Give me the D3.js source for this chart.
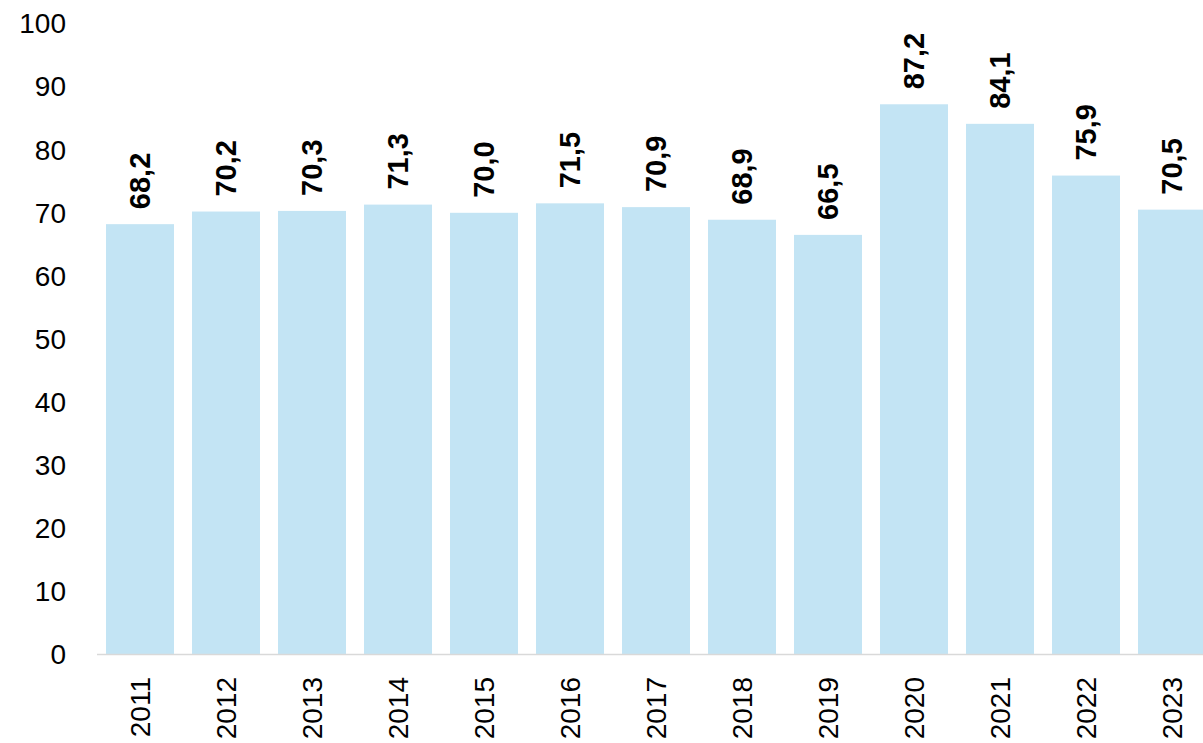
<!DOCTYPE html>
<html>
<head>
<meta charset="utf-8">
<script src="https://cdn.jsdelivr.net/npm/d3@7"></script>
<style>
  body { margin: 0; background: #fff; }
  text { font-family: "Liberation Sans", Arial, sans-serif; }
</style>
</head>
<body>
<div id="chart"></div>
<script>
var years = ["2011","2012","2013","2014","2015","2016","2017","2018","2019","2020","2021","2022","2023"]
var values = [68.2, 70.2, 70.3, 71.3, 70.0, 71.5, 70.9, 68.9, 66.5, 87.2, 84.1, 75.9, 70.5]
var yTicks = [0, 10, 20, 30, 40, 50, 60, 70, 80, 90, 100]

var width = 1203, height = 743

var svg = d3.select("#chart").append("svg")
    .attr("width", width)
    .attr("height", height)

var x = d3.scaleBand()
    .domain(years)
    .range([97, 1215])
    .paddingInner(0.2093)
    .paddingOuter(0.1047)

var y = d3.scaleLinear()
    .domain([0, 100])
    .range([654.5, 23.5])

// y labels, no axis line
svg.append("g")
    .selectAll("text")
    .data(yTicks)
    .enter().append("text")
    .attr("x", 66)
    .attr("y", function(d) { return y(d) })
    .attr("dy", "0.35em")
    .attr("text-anchor", "end")
    .attr("font-size", 28)
    .attr("fill", "#000")
    .text(function(d) { return d })

var data = years.map(function(yr, i) { return {year: yr, value: values[i]} })

svg.append("g")
    .selectAll("rect")
    .data(data)
    .enter().append("rect")
    .attr("x", function(d) { return x(d.year) })
    .attr("y", function(d) { return y(d.value) })
    .attr("width", x.bandwidth())
    .attr("height", function(d) { return y(0) - y(d.value) })
    .attr("fill", "#c3e4f4")

// baseline
svg.append("line")
    .attr("x1", 97).attr("x2", width)
    .attr("y1", y(0)).attr("y2", y(0))
    .attr("stroke", "#d9d9d9")
    .attr("stroke-width", 1.5)

// value labels
svg.append("g")
    .selectAll("text")
    .data(data)
    .enter().append("text")
    .attr("transform", function(d) {
        return "translate(" + (x(d.year) + x.bandwidth() / 2) + "," + (y(d.value) - 15) + ") rotate(-90)"
    })
    .attr("dy", "0.35em")
    .attr("font-size", 29)
    .attr("font-weight", "bold")
    .attr("fill", "#000")
    .text(function(d) { return d.value.toFixed(1).replace(".", ",") })

// year labels
svg.append("g")
    .selectAll("text")
    .data(years)
    .enter().append("text")
    .attr("transform", function(d) {
        return "translate(" + (x(d) + x.bandwidth() / 2) + "," + 677 + ") rotate(-90)"
    })
    .attr("dy", "0.35em")
    .attr("text-anchor", "end")
    .attr("font-size", 28)
    .attr("fill", "#000")
    .text(function(d) { return d })
</script>
</body>
</html>
